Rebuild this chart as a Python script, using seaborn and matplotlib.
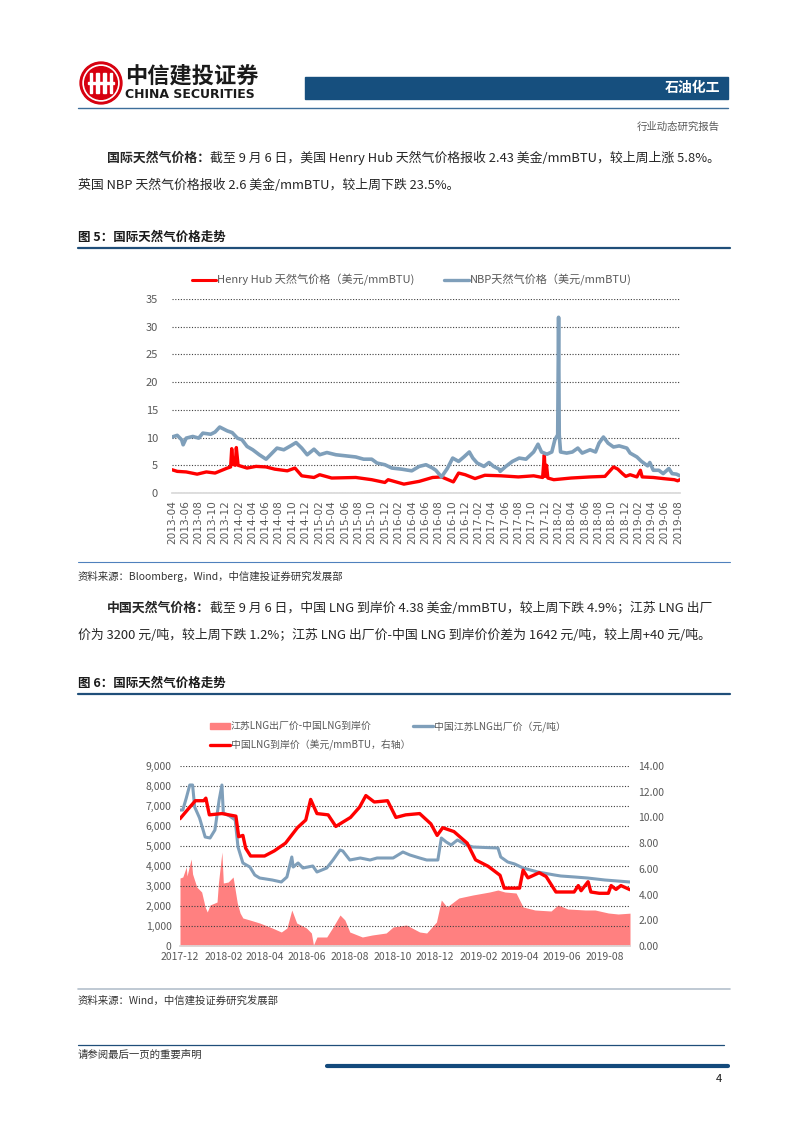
import matplotlib
matplotlib.use('Agg')
import matplotlib.pyplot as plt
import matplotlib.dates as mdates
import matplotlib.ticker as mticker
from matplotlib.lines import Line2D
from matplotlib.patches import Patch, Circle, Rectangle
import pandas as pd
import seaborn as sns

# ---- chart 5: Henry Hub vs NBP (USD/mmBTU)
hh_dates = ['2013-04-01', '2013-04-25', '2013-06-05', '2013-07-25', '2013-09-05', '2013-10-15',
            '2013-11-15', '2013-12-10', '2013-12-25', '2013-12-30', '2014-01-05', '2014-01-15',
            '2014-01-20', '2014-01-28', '2014-03-10', '2014-04-20', '2014-06-05', '2014-07-15',
            '2014-09-10', '2014-10-15', '2014-11-15', '2015-01-10', '2015-02-05', '2015-04-01',
            '2015-07-20', '2015-10-01', '2015-11-30', '2015-12-15', '2016-02-25', '2016-05-05',
            '2016-07-05', '2016-08-15', '2016-10-08', '2016-11-01', '2016-12-01', '2017-01-15',
            '2017-03-01', '2017-05-15', '2017-08-01', '2017-10-10', '2017-11-20', '2017-11-28',
            '2017-12-02', '2017-12-08', '2017-12-14', '2018-01-10', '2018-03-30', '2018-06-25',
            '2018-09-01', '2018-10-10', '2018-10-30', '2018-11-20', '2018-12-05', '2018-12-25',
            '2019-01-25', '2019-02-10', '2019-02-18', '2019-04-10', '2019-05-25', '2019-07-15',
            '2019-07-30', '2019-08-10']
hh_vals = [4.2, 3.9, 3.8, 3.4, 3.8, 3.6,
           4.1, 4.5, 4.7, 8.0, 5.2, 5.0,
           8.2, 5.0, 4.5, 4.8, 4.7, 4.3,
           4.0, 4.5, 3.1, 2.8, 3.3, 2.7,
           2.8, 2.4, 1.9, 2.4, 1.6, 2.1,
           2.8, 2.9, 2.0, 3.6, 3.3, 2.6,
           3.2, 3.1, 2.9, 3.1, 2.8, 6.9,
           3.0, 5.0, 2.7, 2.4, 2.7, 2.9,
           3.0, 4.7, 4.3, 3.5, 3.0, 3.3,
           2.9, 4.1, 2.9, 2.8, 2.6, 2.4,
           2.2, 2.4]

nbp_dates = ['2013-04-01', '2013-04-25', '2013-05-15', '2013-05-22', '2013-06-05', '2013-07-05',
             '2013-08-01', '2013-08-20', '2013-09-25', '2013-10-15', '2013-11-05', '2013-12-10',
             '2014-01-01', '2014-01-25', '2014-02-15', '2014-03-10', '2014-04-05', '2014-05-05',
             '2014-06-05', '2014-06-25', '2014-07-25', '2014-08-25', '2014-09-25', '2014-10-20',
             '2014-11-15', '2014-12-10', '2015-01-10', '2015-02-05', '2015-03-10', '2015-04-20',
             '2015-06-05', '2015-07-20', '2015-08-25', '2015-10-01', '2015-10-25', '2015-11-30',
             '2016-01-01', '2016-02-15', '2016-04-01', '2016-05-05', '2016-06-05', '2016-07-05',
             '2016-07-20', '2016-08-15', '2016-09-10', '2016-10-05', '2016-11-01', '2016-11-25',
             '2016-12-20', '2017-01-05', '2017-01-25', '2017-02-25', '2017-03-20', '2017-04-10',
             '2017-05-05', '2017-05-10', '2017-06-05', '2017-07-05', '2017-08-05', '2017-09-05',
             '2017-10-10', '2017-10-30', '2017-11-15', '2017-12-10', '2018-01-01', '2018-01-15',
             '2018-01-28', '2018-02-01', '2018-02-04', '2018-02-10', '2018-03-10', '2018-04-05',
             '2018-04-30', '2018-05-20', '2018-06-25', '2018-07-20', '2018-08-05', '2018-08-25',
             '2018-09-15', '2018-10-10', '2018-11-05', '2018-12-10', '2018-12-25', '2019-01-25',
             '2019-02-15', '2019-03-15', '2019-03-25', '2019-04-10', '2019-05-05', '2019-05-25',
             '2019-06-20', '2019-07-05', '2019-07-25', '2019-08-10']
nbp_vals = [10.1, 10.4, 9.6, 8.7, 9.9, 10.2,
            9.9, 10.8, 10.6, 11.0, 11.9, 11.2,
            10.9, 9.9, 9.6, 8.4, 7.8, 6.9,
            6.1, 6.9, 8.1, 7.8, 8.5, 9.1,
            8.1, 6.9, 7.9, 6.9, 7.3, 6.9,
            6.7, 6.5, 6.1, 6.1, 5.4, 5.1,
            4.5, 4.3, 4.0, 4.8, 5.1, 4.5,
            4.1, 2.9, 4.4, 6.3, 5.7, 6.5,
            7.4, 6.3, 5.4, 4.8, 5.5, 4.8,
            4.3, 3.9, 4.8, 5.7, 6.3, 6.1,
            7.4, 8.8, 7.4, 7.0, 7.4, 9.6,
            10.5, 31.7, 10.5, 7.4, 7.2, 7.4,
            8.1, 7.2, 7.8, 7.4, 9.0, 10.1,
            9.0, 8.3, 8.5, 8.1, 7.2, 6.5,
            5.7, 4.9, 5.5, 4.1, 4.1, 3.5,
            4.4, 3.5, 3.4, 3.1]

# ---- chart 6: Jiangsu LNG ex-factory vs China LNG landed
spread_dates = ['2017-12-01', '2017-12-05', '2017-12-10', '2017-12-11', '2017-12-17', '2017-12-19',
                '2017-12-25', '2018-01-01', '2018-01-06', '2018-01-09', '2018-01-13', '2018-01-23',
                '2018-01-25', '2018-01-30', '2018-02-01', '2018-02-08', '2018-02-15', '2018-02-21',
                '2018-02-25', '2018-03-01', '2018-03-11', '2018-03-25', '2018-04-12', '2018-04-25',
                '2018-05-03', '2018-05-10', '2018-05-17', '2018-05-31', '2018-06-07', '2018-06-10',
                '2018-06-15', '2018-06-29', '2018-07-08', '2018-07-18', '2018-07-25', '2018-08-01',
                '2018-08-19', '2018-09-02', '2018-09-22', '2018-10-02', '2018-10-21', '2018-11-09',
                '2018-11-19', '2018-12-03', '2018-12-10', '2018-12-18', '2019-01-04', '2019-01-24',
                '2019-02-17', '2019-03-01', '2019-03-11', '2019-03-27', '2019-04-06', '2019-04-23',
                '2019-05-16', '2019-05-26', '2019-06-09', '2019-07-04', '2019-07-18', '2019-08-06',
                '2019-08-20', '2019-09-06']
spread_vals = [3400, 3450, 3950, 3500, 4350, 3600,
               2950, 2700, 1950, 1700, 2050, 2200,
               3150, 4700, 3150, 3200, 3450, 2150,
               1650, 1400, 1300, 1150, 900, 700,
               900, 1800, 1150, 900, 650, 50,
               450, 450, 950, 1550, 1300, 700,
               450, 550, 650, 950, 1050, 700,
               650, 1200, 2300, 1950, 2400, 2550,
               2700, 2800, 2700, 2650, 1950, 1800,
               1750, 2050, 1850, 1800, 1800, 1650,
               1600, 1642]

js_dates = ['2017-12-01', '2017-12-05', '2017-12-10', '2017-12-15', '2017-12-19', '2017-12-22',
            '2017-12-29', '2018-01-06', '2018-01-13', '2018-01-20', '2018-01-26', '2018-01-30',
            '2018-02-01', '2018-02-10', '2018-02-18', '2018-02-22', '2018-03-01', '2018-03-11',
            '2018-03-18', '2018-03-25', '2018-04-12', '2018-04-25', '2018-05-03', '2018-05-10',
            '2018-05-12', '2018-05-19', '2018-05-26', '2018-06-09', '2018-06-15', '2018-06-29',
            '2018-07-08', '2018-07-18', '2018-07-22', '2018-08-01', '2018-08-16', '2018-08-30',
            '2018-09-09', '2018-10-02', '2018-10-16', '2018-10-26', '2018-11-09', '2018-11-19',
            '2018-12-05', '2018-12-10', '2018-12-17', '2018-12-24', '2019-01-02', '2019-01-15',
            '2019-01-24', '2019-03-01', '2019-03-05', '2019-03-15', '2019-03-25', '2019-04-06',
            '2019-04-27', '2019-05-21', '2019-05-30', '2019-06-19', '2019-07-07', '2019-08-01',
            '2019-09-06']
js_vals = [6800, 6800, 7400, 8050, 8050, 6950,
           6400, 5450, 5400, 5800, 7300, 8050,
           6650, 6500, 6300, 4950, 4150, 3950,
           3550, 3400, 3300, 3200, 3450, 4450,
           3950, 4150, 3900, 4000, 3700, 3900,
           4300, 4800, 4750, 4300, 4400, 4300,
           4400, 4400, 4700, 4550, 4400, 4300,
           4300, 5400, 5200, 5050, 5300, 5050,
           4950, 4900, 4450, 4200, 4100, 3900,
           3700, 3550, 3500, 3450, 3400, 3300,
           3200]

lng_dates = ['2017-12-01', '2017-12-15', '2017-12-23', '2018-01-04', '2018-01-07', '2018-01-12',
             '2018-01-30', '2018-02-19', '2018-02-23', '2018-03-01', '2018-03-05', '2018-03-12',
             '2018-04-01', '2018-04-15', '2018-05-01', '2018-05-18', '2018-05-30', '2018-06-06',
             '2018-06-15', '2018-07-01', '2018-07-12', '2018-08-02', '2018-08-15', '2018-08-24',
             '2018-09-05', '2018-09-24', '2018-10-06', '2018-10-20', '2018-11-09', '2018-11-25',
             '2018-12-04', '2018-12-12', '2018-12-28', '2019-01-16', '2019-01-28', '2019-02-15',
             '2019-03-04', '2019-03-10', '2019-04-01', '2019-04-06', '2019-04-13', '2019-04-29',
             '2019-05-09', '2019-05-23', '2019-06-18', '2019-06-24', '2019-06-28', '2019-07-08',
             '2019-07-12', '2019-07-24', '2019-08-06', '2019-08-10', '2019-08-17', '2019-08-24',
             '2019-09-06']
lng_vals = [9.9, 10.8, 11.3, 11.3, 11.5, 10.2,
            10.3, 10.1, 8.5, 8.6, 7.6, 7.0,
            7.0, 7.4, 8.0, 9.2, 9.8, 11.4,
            10.3, 10.2, 9.3, 10.0, 10.8, 11.7,
            11.2, 11.3, 10.0, 10.2, 10.3, 9.5,
            8.6, 9.2, 8.9, 8.0, 6.7, 6.2,
            5.5, 4.5, 4.5, 5.9, 5.3, 5.7,
            5.4, 4.2, 4.2, 4.7, 4.3, 5.0,
            4.2, 4.1, 4.1, 4.7, 4.4, 4.7,
            4.38]

W, H = 802, 1133
RED = '#ff0000'
GREYBLUE = '#7f9fba'
PINK = '#ff8080'
TXT = '#262626'
TICK = '#595959'


def box(l, t, r, b):
    return [l / W, 1 - b / H, (r - l) / W, (b - t) / H]


def fy(y):
    return 1 - y / H


sns.set_theme(style='white')
plt.rcParams['font.family'] = ['Noto Sans CJK SC', 'DejaVu Sans']
plt.rcParams['axes.unicode_minus'] = False

fig = plt.figure(figsize=(W / 100, H / 100), dpi=100)
renderer = fig.canvas.get_renderer()


def put(x, y, s, **kw):
    kw.setdefault('va', 'center')
    kw.setdefault('color', TXT)
    return fig.text(x / W, fy(y), s, **kw)


def para(x, y, bold, rest, fs):
    t = put(x, y, bold, fontsize=fs, fontweight='bold')
    bb = t.get_window_extent(renderer)
    put(bb.x1, y, rest, fontsize=fs)


# ---- header
logo = fig.add_axes(box(79, 61, 123, 105))
logo.set_xlim(-1.05, 1.05)
logo.set_ylim(-1.05, 1.05)
logo.set_aspect('equal')
logo.axis('off')
logo.add_patch(Circle((0, 0), 1.0, color='#d7000f'))
logo.add_patch(Circle((0, 0), 0.86, color='white'))
logo.add_patch(Circle((0, 0), 0.78, color='#d7000f'))
for bx in [-0.48, -0.16, 0.16, 0.48]:
    logo.add_patch(Rectangle((bx - 0.06, -0.5), 0.12, 1.0, color='white'))
logo.add_patch(Rectangle((-0.62, -0.06), 1.24, 0.12, color='white'))

put(125, 76, '中信建投证券', fontsize=16, fontweight='bold', color='#1a1a1a')
put(125, 95, 'CHINA SECURITIES', fontsize=9, fontweight='bold', color='#1a1a1a',
    family=['Liberation Sans Narrow', 'DejaVu Sans'])
fig.add_artist(Rectangle((305 / W, fy(99)), 423 / W, 22 / H, color='#164f7e',
                         transform=fig.transFigure))
put(720, 88, '石油化工', fontsize=10, fontweight='bold', color='white', ha='right')
fig.add_artist(Line2D([78 / W, 728 / W], [fy(108), fy(108)], color='#3d6e9a', lw=1))
put(720, 127, '行业动态研究报告', fontsize=7.5, color='#595959', ha='right')

# ---- text block 1
FS = 9.3
para(107, 158, '国际天然气价格：',
     '截至 9 月 6 日，美国 Henry Hub 天然气价格报收 2.43 美金/mmBTU，较上周上涨 5.8%。', FS)
put(78, 185, '英国 NBP 天然气价格报收 2.6 美金/mmBTU，较上周下跌 23.5%。', fontsize=FS)

put(78, 237, '图 5：国际天然气价格走势', fontsize=9, fontweight='bold', color='#1a1a1a')
fig.add_artist(Line2D([78 / W, 730 / W], [fy(248), fy(248)], color='#1f4e79', lw=1.6))

# ---- chart 5
ax1 = fig.add_axes(box(172, 299, 680, 493))
df_hh = pd.DataFrame({'date': pd.to_datetime(hh_dates), 'v': hh_vals})
df_nbp = pd.DataFrame({'date': pd.to_datetime(nbp_dates), 'v': nbp_vals})
sns.lineplot(data=df_hh, x='date', y='v', ax=ax1, color=RED, lw=2.4, zorder=3)
sns.lineplot(data=df_nbp, x='date', y='v', ax=ax1, color=GREYBLUE, lw=2.6, zorder=4)
ax1.set_xlim(pd.Timestamp('2013-04-01'), pd.Timestamp('2019-08-10'))
ax1.set_ylim(0, 35)
ax1.set_yticks(range(0, 36, 5))
ax1.set_xlabel('')
ax1.set_ylabel('')
ax1.xaxis.set_major_locator(mdates.MonthLocator(bymonth=[2, 4, 6, 8, 10, 12]))
ax1.xaxis.set_major_formatter(mdates.DateFormatter('%Y-%m'))
ax1.grid(axis='y', color='#404040', linestyle=(0, (1, 1.5)), lw=0.8)
ax1.grid(axis='x', visible=False)
for s in ['left', 'right', 'top']:
    ax1.spines[s].set_visible(False)
ax1.spines['bottom'].set_color('#d9d9d9')
ax1.tick_params(axis='y', labelsize=8, colors=TICK, length=0, pad=10)
ax1.tick_params(axis='x', labelsize=8, colors=TICK, length=3, color='#d9d9d9',
                rotation=90, pad=2)
for lab in ax1.get_xticklabels():
    lab.set_family(['DejaVu Sans'])
    lab.set_fontsize(7.6)
fig.legend(handles=[Line2D([], [], color=RED, lw=2.2),
                    Line2D([], [], color=GREYBLUE, lw=2.4)],
           labels=['Henry Hub 天然气价格（美元/mmBTU)', 'NBP天然气价格（美元/mmBTU)'],
           loc='center left', bbox_to_anchor=(186 / W, fy(280)), ncol=2, frameon=False,
           fontsize=8, handlelength=2.2, handletextpad=0.1, columnspacing=2.7,
           labelcolor=TICK, borderpad=0)

fig.add_artist(Line2D([78 / W, 730 / W], [fy(562), fy(562)], color='#4f81bd', lw=0.8))
put(78, 576, '资料来源：Bloomberg，Wind，中信建投证券研究发展部', fontsize=7.5,
    style='italic', color='#333333')

# ---- text block 2
para(107, 608, '中国天然气价格：',
     '截至 9 月 6 日，中国 LNG 到岸价 4.38 美金/mmBTU，较上周下跌 4.9%；江苏 LNG 出厂', FS)
put(78, 635, '价为 3200 元/吨，较上周下跌 1.2%；江苏 LNG 出厂价-中国 LNG 到岸价价差为 1642 元/吨，较上周+40 元/吨。',
    fontsize=FS)

put(78, 683, '图 6：国际天然气价格走势', fontsize=9, fontweight='bold', color='#1a1a1a')
fig.add_artist(Line2D([78 / W, 730 / W], [fy(694), fy(694)], color='#1f4e79', lw=1.6))

# ---- chart 6
ax2 = fig.add_axes(box(180, 766, 630, 946))
ax2.set_axisbelow('line')
sp = pd.DataFrame({'date': pd.to_datetime(spread_dates), 'v': spread_vals})
ax2.fill_between(sp['date'], 0, sp['v'], color=PINK, lw=0, zorder=1)
df_js = pd.DataFrame({'date': pd.to_datetime(js_dates), 'v': js_vals})
sns.lineplot(data=df_js, x='date', y='v', ax=ax2, color=GREYBLUE, lw=2.2, zorder=3)
ax2.set_xlim(pd.Timestamp('2017-12-01'), pd.Timestamp('2019-09-06'))
ax2.set_ylim(0, 9000)
ax2.set_yticks(range(0, 9001, 1000))
ax2.yaxis.set_major_formatter(mticker.FuncFormatter(lambda v, p: f'{v:,.0f}'))
ax2.xaxis.set_major_locator(mdates.MonthLocator(bymonth=[2, 4, 6, 8, 10, 12]))
ax2.xaxis.set_major_formatter(mdates.DateFormatter('%Y-%m'))
ax2.set_xlabel('')
ax2.set_ylabel('')
ax2.grid(axis='y', color='#404040', linestyle=(0, (1, 1.5)), lw=0.8)
ax2.grid(axis='x', visible=False)
for s in ['left', 'right', 'top']:
    ax2.spines[s].set_visible(False)
ax2.spines['bottom'].set_color('#d9d9d9')
ax2.tick_params(axis='y', labelsize=7.5, colors=TICK, length=0, pad=6)
ax2.tick_params(axis='x', labelsize=7.5, colors=TICK, length=0, pad=4)

ax2r = ax2.twinx()
df_lng = pd.DataFrame({'date': pd.to_datetime(lng_dates), 'v': lng_vals})
sns.lineplot(data=df_lng, x='date', y='v', ax=ax2r, color=RED, lw=2.4, zorder=4)
ax2r.set_ylim(0, 14)
ax2r.set_yticks(range(0, 15, 2))
ax2r.yaxis.set_major_formatter(mticker.FuncFormatter(lambda v, p: f'{v:.2f}'))
ax2r.set_ylabel('')
ax2r.grid(False)
for s in ['left', 'right', 'top', 'bottom']:
    ax2r.spines[s].set_visible(False)
ax2r.tick_params(axis='y', labelsize=7.5, colors=TICK, length=0, pad=6)

fig.legend(handles=[Patch(color=PINK), Line2D([], [], color=RED, lw=2.4),
                    Line2D([], [], color=GREYBLUE, lw=2.4)],
           labels=['江苏LNG出厂价-中国LNG到岸价', '中国LNG到岸价（美元/mmBTU，右轴）',
                   '中国江苏LNG出厂价（元/吨）'],
           loc='upper left', bbox_to_anchor=(205 / W, fy(716)), ncol=2, frameon=False,
           fontsize=7.1, handlelength=2.0, handleheight=0.6, handletextpad=0.1,
           columnspacing=0.3, labelspacing=0.85, labelcolor=TICK, borderpad=0)

fig.add_artist(Line2D([78 / W, 730 / W], [fy(989), fy(989)], color='#b4c0cc', lw=1.2))
put(78, 1001, '资料来源：Wind，中信建投证券研究发展部', fontsize=7.5, style='italic',
    color='#333333')

# ---- footer
fig.add_artist(Line2D([78 / W, 724 / W], [fy(1045), fy(1045)], color='#1f4e79', lw=0.9))
put(78, 1055, '请参阅最后一页的重要声明', fontsize=7.5, color='#333333')
fig.add_artist(Line2D([327 / W, 728 / W], [fy(1066), fy(1066)], color='#134a7c', lw=3))
put(722, 1079, '4', fontsize=8, ha='right', color='#1a1a1a')

fig.savefig('out.png', dpi=100)
